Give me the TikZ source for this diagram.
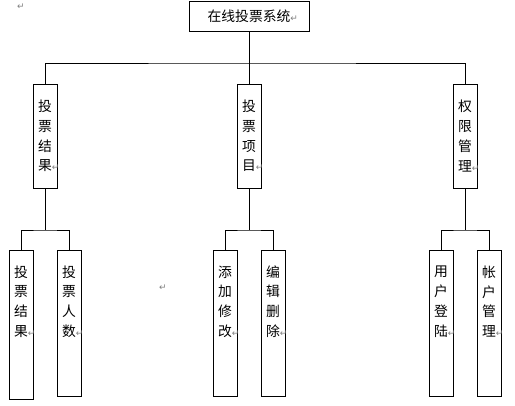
\documentclass[tikz,border=0pt]{standalone}
\usepackage{fontspec}
\setmainfont{Noto Sans CJK SC}
\newfontfamily\symfont{DejaVu Sans}
\usetikzlibrary{positioning}
\newcommand{\retmark}{{\color{gray}\symfont\fontsize{9}{9}\selectfont ↵}}

\begin{document}
\begin{tikzpicture}[x=1pt, y=-1pt, line width=0.8pt,
    box/.style={draw, inner sep=0pt, minimum width=24pt},
    vtext/.style={align=center, inner sep=0pt, font=\fontsize{13.8}{19.8}\selectfont}]
    \useasboundingbox (0,0) rectangle (515,406);

    \node[draw, vtext, minimum width=120pt, minimum height=30pt] (sys) at (249,16) {在线投票系统\rlap{\retmark}};

    \node[box, vtext, minimum height=104pt] (res) at (45,136) {投\\票\\结\\果\rlap{\retmark}};
    \node[box, vtext, minimum height=104pt] (prj) at (249,136) {投\\票\\项\\目\rlap{\retmark}};
    \node[box, vtext, minimum height=104pt] (auth) at (465,136) {权\\限\\管\\理\rlap{\retmark}};

    \node[box, minimum height=149pt] (res1) at (21,324.5) {};
    \node[box, minimum height=146pt] (res2) at (69,323) {};
    \node[box, minimum height=146pt] (prj1) at (225,323) {};
    \node[box, minimum height=146pt] (prj2) at (273,323) {};
    \node[box, minimum height=146pt] (auth1) at (441,323) {};
    \node[box, minimum height=146pt] (auth2) at (489,323) {};

    \node[vtext] (res1txt) at ([yshift=-52pt]res2.north -| res1) {投\\票\\结\\果\rlap{\retmark}};
    \node[vtext] (res2txt) at ([yshift=-52pt]res2.north) {投\\票\\人\\数\rlap{\retmark}};
    \node[vtext] (prj1txt) at ([yshift=-52pt]prj1.north) {添\\加\\修\\改\rlap{\retmark}};
    \node[vtext] (prj2txt) at ([yshift=-52pt]prj2.north) {编\\辑\\删\\除\rlap{\retmark}};
    \node[vtext] (auth1txt) at ([yshift=-52pt]auth1.north) {用\\户\\登\\陆\rlap{\retmark}};
    \node[vtext] (auth2txt) at ([yshift=-52pt]auth2.north) {帐\\户\\管\\理\rlap{\retmark}};

    \node (topret) at (21,7) {\retmark};
    \node (midret) at (163,288) {\retmark};

    \coordinate (bus) at (249,63);
    \coordinate (resfork) at (45,230);
    \coordinate (prjfork) at (249,230);
    \coordinate (authfork) at (465,230);

    \draw (sys) -- (prj);
    \draw (res.north) |- (bus) -| (auth.north);

    \draw (res) -- (resfork);
    \draw (res1.north) |- (resfork) -| (res2.north);
    \draw (prj) -- (prjfork);
    \draw (prj1.north) |- (prjfork) -| (prj2.north);
    \draw (auth) -- (authfork);
    \draw (auth1.north) |- (authfork) -| (auth2.north);
\end{tikzpicture}
\end{document}
